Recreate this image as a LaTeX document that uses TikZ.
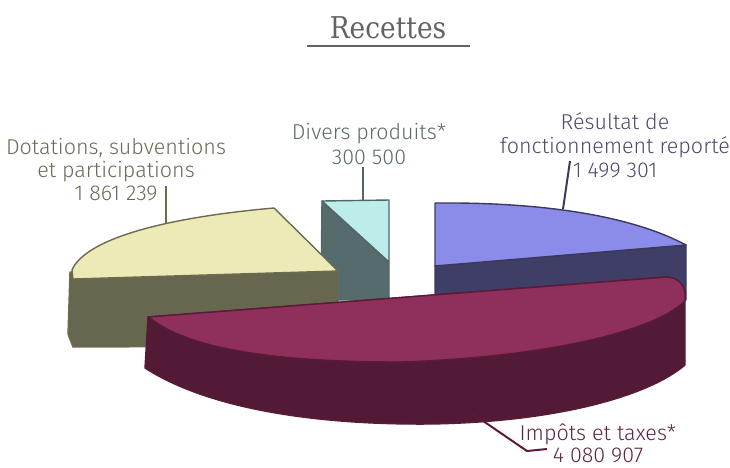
\documentclass[tikz,border=0pt]{standalone}
\usepackage{fontspec}
\usepackage{graphicx}
\setmainfont{Fira Sans}[UprightFont=* Light]
\newfontfamily\titlefont{DejaVu Serif}
\definecolor{yTop}{HTML}{ECEBB8}
\definecolor{ySide}{HTML}{67674F}
\definecolor{yLine}{HTML}{6E6A50}
\definecolor{yText}{HTML}{6B6A55}
\definecolor{cTop}{HTML}{BDEDEB}
\definecolor{cSide}{HTML}{566B6B}
\definecolor{cLine}{HTML}{536666}
\definecolor{cText}{HTML}{5A6B6B}
\definecolor{bTop}{HTML}{8B8BE9}
\definecolor{bSide}{HTML}{3E3E66}
\definecolor{bLine}{HTML}{3A3A5C}
\definecolor{bText}{HTML}{4B4B6B}
\definecolor{mTop}{HTML}{8E2F5C}
\definecolor{mSide}{HTML}{521A35}
\definecolor{mLine}{HTML}{5A1A38}
\definecolor{mText}{HTML}{5E2345}
\definecolor{tGray}{HTML}{636363}
\begin{document}
\begin{tikzpicture}[x=1pt,y=-1pt,line join=round,
  lbl/.style={anchor=base,inner sep=0pt,font=\fontsize{21.5}{23}\selectfont},
  edge/.style={line width=1.4pt},
  leader/.style={line width=2pt}]
\useasboundingbox (0,0) rectangle (730,467);
% title
\node[anchor=base,inner sep=0pt,text=tGray,font=\titlefont\fontsize{30}{30}\selectfont] (title) at (388,38) {\scalebox{0.88}[1]{Recettes}};
\coordinate (ul1) at (307,46);
\coordinate (ul2) at (470,46);
\draw[tGray,line width=2.2pt] (ul1) -- (ul2);
% teal slice (Divers produits)
\fill[cSide,draw=cLine,edge] (322,201) -- (389,262) -- (389,300) -- (321,300) -- cycle;
\fill[cTop,draw=cLine,edge] (322,201) -- (389,200) -- (389,262) -- cycle;
% yellow slice (Dotations)
\fill[ySide,draw=yLine,edge] (70,272) -- (338,271) -- (338,346) -- (73,347) -- (68,334) -- cycle;
\fill[yTop,draw=yLine,edge] (72,270) .. controls (85,240) and (160,218) .. (274,208) -- (338,271) -- (73,279) -- cycle;
% blue slice (Resultat)
\fill[bSide,draw=bLine,edge] (435,266) -- (686,245) -- (686,300) -- (435,300) -- cycle;
\fill[bTop,draw=bLine,edge] (435,203) .. controls (540,202) and (630,215) .. (686,245) -- (435,266) -- cycle;
% magenta slice (Impots)
\fill[mSide,draw=mLine,edge] (148,317) -- (667,277) .. controls (680,278) and (686,287) .. (685,298)
  -- (685,365) .. controls (650,395) and (560,422) .. (430,424) .. controls (320,425) and (210,410) .. (145,368) -- cycle;
\fill[mTop,draw=mLine,edge] (148,317) -- (667,277) .. controls (680,278) and (686,287) .. (685,298)
  -- (685,301) .. controls (650,335) and (530,358) .. (400,362) .. controls (280,362) and (190,350) .. (150,318) -- cycle;
% labels
\node[lbl,text=yText] (dot1) at (116,154) {Dotations, subventions};
\node[lbl,text=yText] (dot2) at (116,177) {et participations};
\node[lbl,text=yText] (dot3) at (116,200) {1 861 239};
\node[lbl,text=cText] (div1) at (369,139) {Divers produits*};
\node[lbl,text=cText] (div2) at (369,164) {300 500};
\node[lbl,text=bText] (res1) at (615,129) {Résultat de};
\node[lbl,text=bText] (res2) at (615,153) {fonctionnement reporté};
\node[lbl,text=bText] (res3) at (615,177) {1 499 301};
\node[lbl,text=mText] (imp1) at (598,440) {Impôts et taxes*};
\node[lbl,text=mText] (imp2) at (598,462) {4 080 907};
% leader lines
\coordinate (ya) at (166,223); \coordinate (yb) at (166,186);
\draw[yLine,leader] (ya) -- (yb);
\coordinate (ca) at (363,201); \coordinate (cb) at (363,167);
\draw[cLine,leader] (ca) -- (cb);
\coordinate (ba) at (563,209); \coordinate (bb) at (570,161);
\draw[bLine,leader] (ba) -- (bb);
\coordinate (ma) at (470,412); \coordinate (mb) at (527,451); \coordinate (mc) at (547,449);
\draw[mLine,leader] (ma) -- (mb) -- (mc);
\end{tikzpicture}
\end{document}
